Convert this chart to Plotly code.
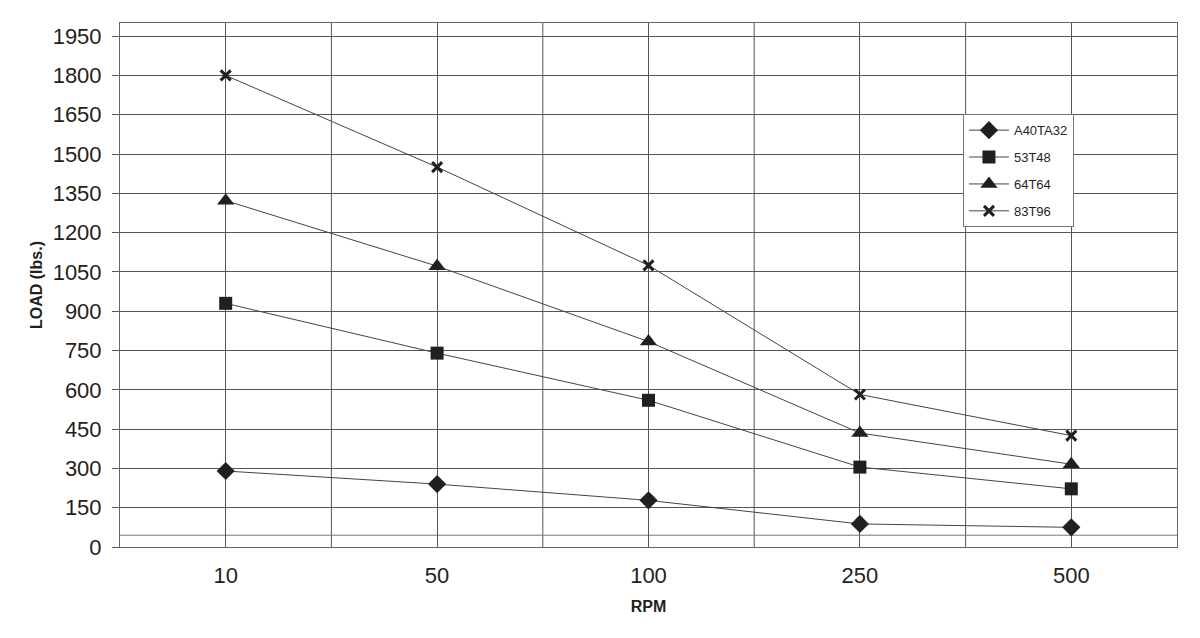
import plotly.graph_objects as go

rpm = ["10", "50", "100", "250", "500"]
a40ta32 = [290, 240, 178, 88, 75]
t53t48 = [930, 740, 560, 305, 222]
t64t64 = [1322, 1072, 784, 435, 316]
t83t96 = [1800, 1450, 1075, 582, 425]
y_ticks = list(range(0, 2000, 150))

series = [
    ("A40TA32", a40ta32, "diamond", 14),
    ("53T48", t53t48, "square", 13),
    ("64T64", t64t64, "triangle-up", 15),
    ("83T96", t83t96, "x-thin-open", 10),
]

ink = "#231f20"
fig = go.Figure()
for i, (name, vals, sym, sz) in enumerate(series):
    marker = dict(symbol=sym, size=sz, color=ink)
    if sym.startswith("x-thin"):
        marker["line"] = dict(width=3, color=ink)
    fig.add_trace(go.Scatter(
        x=rpm, y=vals, name=name, mode="lines+markers",
        line=dict(color="#444444", width=1),
        marker=marker, legendgroup=name,
    ))

shapes = []
for i in range(len(rpm) - 1):
    shapes.append(dict(type="line", xref="x", yref="paper", x0=i + 0.5, x1=i + 0.5,
                       y0=0, y1=1, line=dict(color="#555555", width=1), layer="below"))
shapes.append(dict(type="line", xref="paper", yref="y", x0=0, x1=1, y0=45, y1=45,
                   line=dict(color="#777777", width=1), layer="below"))

font = "Liberation Sans, Arial, sans-serif"
fig.update_layout(
    width=1184, height=622,
    margin=dict(l=112, r=15, t=15, b=83),
    plot_bgcolor="white", paper_bgcolor="white",
    font=dict(family=font, color=ink),
    shapes=shapes,
    showlegend=True,
    legend=dict(x=0.7975, y=0.826, xanchor="left", yanchor="top",
                bgcolor="white", bordercolor="#777777", borderwidth=1,
                font=dict(size=13, color=ink), itemwidth=40,
                tracegroupgap=7),
    xaxis=dict(
        type="category", range=[-0.5, 4.5],
        showgrid=True, gridcolor="#555555", gridwidth=1,
        showline=True, linecolor="#666666", linewidth=1, mirror=True,
        ticks="", tickfont=dict(size=22, color=ink), ticklabelstandoff=9,
        title=dict(text="RPM", font=dict(size=16, weight="bold", color=ink), standoff=13),
        zeroline=False,
    ),
    yaxis=dict(
        range=[0, 2000], tickmode="array", tickvals=y_ticks,
        showgrid=True, gridcolor="#555555", gridwidth=1,
        showline=True, linecolor="#666666", linewidth=1, mirror=True,
        ticks="outside", ticklen=7, tickcolor="#555555",
        tickfont=dict(size=22, color=ink), ticklabelstandoff=6,
        title=dict(text="LOAD (lbs.)", font=dict(size=16, weight="bold", color=ink), standoff=6),
        zeroline=False,
    ),
)

fig.write_html("out.html")
